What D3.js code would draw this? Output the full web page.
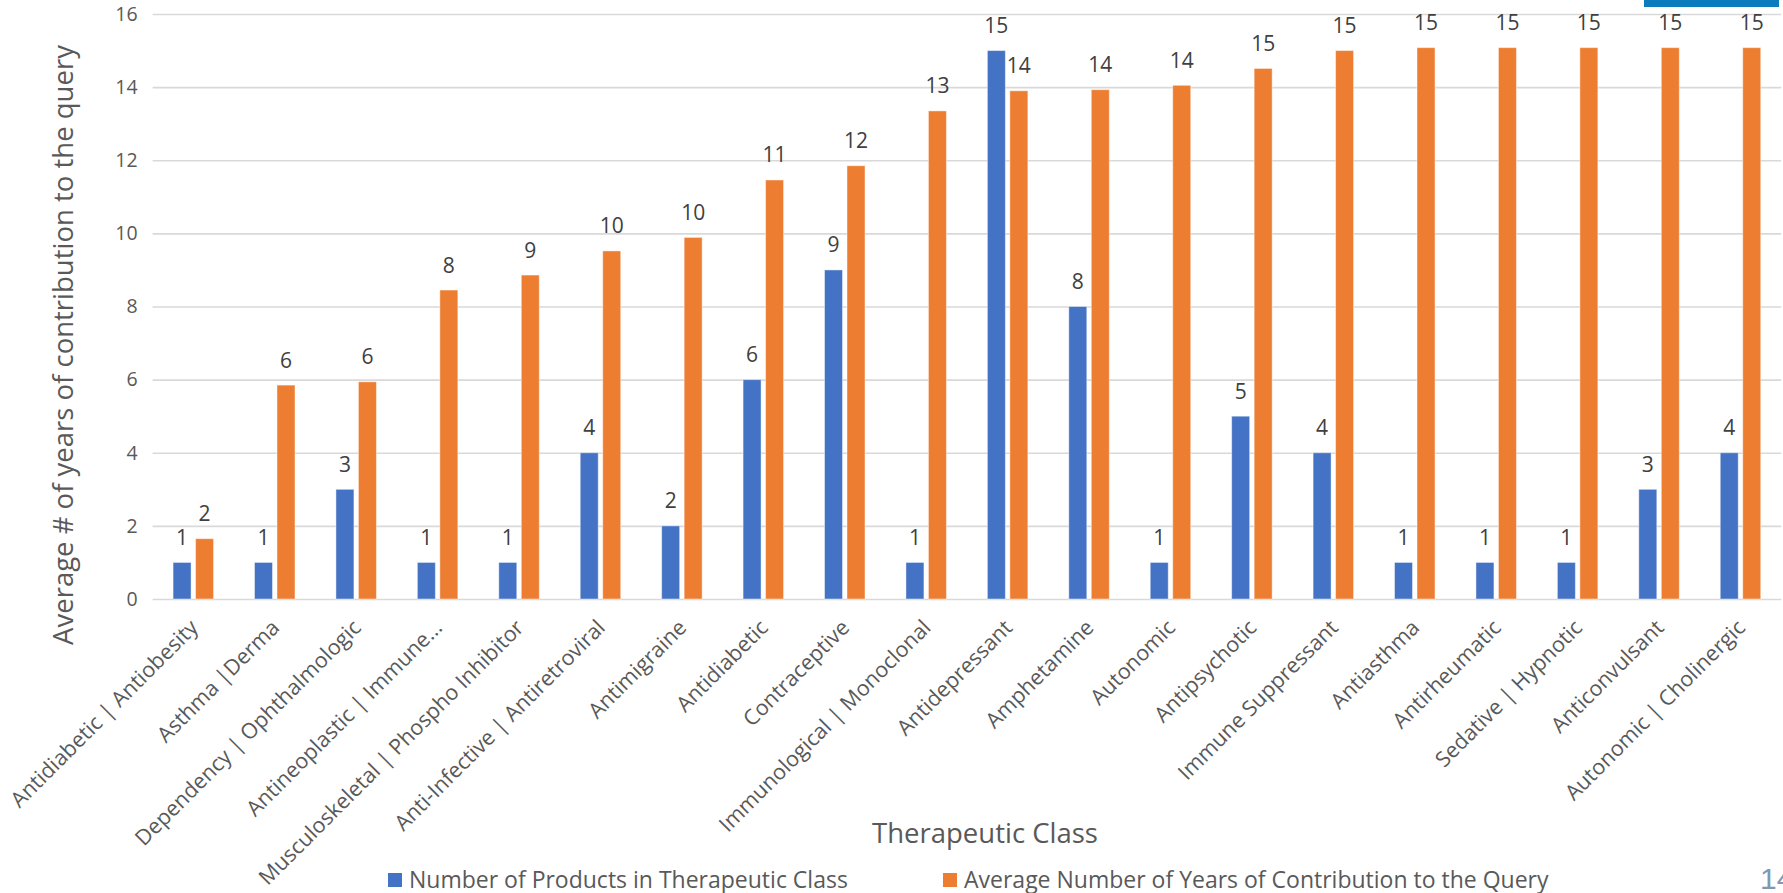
<!DOCTYPE html>
<html>
<head>
<meta charset="utf-8">
<script src="https://cdn.jsdelivr.net/npm/d3@7"></script>
<style>
  body { margin: 0; background: #fff; }
  svg { display: block; font-family: "Open Sans", sans-serif; }
</style>
</head>
<body>
<svg id="chart"></svg>
<script>
var svgWidth = 1783;
var svgHeight = 893;

// therapeutic classes, in the order shown
var categories = [
  "Antidiabetic | Antiobesity", "Asthma |Derma", "Dependency | Ophthalmologic",
  "Antineoplastic | Immune...", "Musculoskeletal | Phospho Inhibitor",
  "Anti-Infective | Antiretroviral", "Antimigraine", "Antidiabetic", "Contraceptive",
  "Immunological | Monoclonal", "Antidepressant", "Amphetamine", "Autonomic",
  "Antipsychotic", "Immune Suppressant", "Antiasthma", "Antirheumatic",
  "Sedative | Hypnotic", "Anticonvulsant", "Autonomic | Cholinergic"
];
var productCounts = [1, 1, 3, 1, 1, 4, 2, 6, 9, 1, 15, 8, 1, 5, 4, 1, 1, 1, 3, 4];
var avgYears = [1.65, 5.85, 5.94, 8.45, 8.86, 9.52, 9.89, 11.46, 11.85, 13.35,
                13.9, 13.93, 14.05, 14.51, 15.0, 15.08, 15.08, 15.08, 15.08, 15.08];
var yTicks = [0, 2, 4, 6, 8, 10, 12, 14, 16];
var seriesNames = ["Number of Products in Therapeutic Class",
                   "Average Number of Years of Contribution to the Query"];
var seriesColors = ["#4472C4", "#ED7D31"];

var plot = { left: 152.6, right: 1781.2, top: 14, bottom: 599 };

var svg = d3.select("#chart")
  .attr("width", svgWidth)
  .attr("height", svgHeight);

var x0 = d3.scaleBand()
  .domain(categories)
  .range([plot.left, plot.right]);

var x1 = d3.scaleBand()
  .domain([0, 1])
  .range([0, x0.bandwidth()])
  .paddingInner(0.2)
  .paddingOuter(0.91);

var y = d3.scaleLinear()
  .domain([0, 16])
  .range([plot.bottom, plot.top]);

// gridlines + y tick labels
var yAxis = svg.append("g")
  .attr("transform", "translate(" + plot.left + ",0)")
  .call(d3.axisLeft(y)
    .tickValues(yTicks)
    .tickSize(-(plot.right - plot.left))
    .tickPadding(15)
    .tickFormat(d3.format("d")));
yAxis.select(".domain").remove();
yAxis.selectAll("line").attr("stroke", "#d9d9d9").attr("stroke-width", 1.6);
yAxis.selectAll("text")
  .attr("fill", "#595959")
  .style("font-size", "19.5px")
  .style("font-family", "'Open Sans', sans-serif");

// bars
var rows = categories.map(function(c, i) {
  return { cat: c, vals: [productCounts[i], avgYears[i]] };
});

var groups = svg.append("g").selectAll("g")
  .data(rows)
  .enter().append("g")
  .attr("transform", function(d) { return "translate(" + x0(d.cat) + ",0)"; });

groups.selectAll("rect")
  .data(function(d) { return d.vals.map(function(v, k) { return { k: k, v: v }; }); })
  .enter().append("rect")
  .attr("x", function(d) { return x1(d.k); })
  .attr("width", x1.bandwidth())
  .attr("y", function(d) { return y(d.v); })
  .attr("height", function(d) { return y(0) - y(d.v); })
  .attr("fill", function(d) { return seriesColors[d.k]; })
  .attr("stroke", "#ffffff")
  .attr("stroke-opacity", 0.45)
  .attr("stroke-width", 1);

// data labels (rounded)
groups.selectAll("text")
  .data(function(d) { return d.vals.map(function(v, k) { return { k: k, v: v }; }); })
  .enter().append("text")
  .attr("x", function(d) { return x1(d.k) + x1.bandwidth() / 2; })
  .attr("y", function(d) { return y(d.v) - 17.5; })
  .attr("text-anchor", "middle")
  .attr("fill", "#404040")
  .style("font-size", "21px")
  .text(function(d) { return Math.round(d.v); });

// category labels, rotated
svg.append("g").selectAll("text")
  .data(categories)
  .enter().append("text")
  .attr("transform", function(d) {
    return "translate(" + (x0(d) + x0.bandwidth() / 2 + 6) + "," + (plot.bottom + 30) + ") rotate(-45)";
  })
  .attr("text-anchor", "end")
  .attr("fill", "#595959")
  .style("font-size", "21.5px")
  .text(function(d) { return d; });

// axis titles
svg.append("text")
  .attr("transform", "translate(73,345) rotate(-90)")
  .attr("text-anchor", "middle")
  .attr("fill", "#595959")
  .style("font-size", "27.5px")
  .text("Average # of years of contribution to the query");

svg.append("text")
  .attr("x", 985)
  .attr("y", 843)
  .attr("text-anchor", "middle")
  .attr("fill", "#595959")
  .style("font-size", "27.5px")
  .text("Therapeutic Class");

// legend
var legendX = [388, 943];
var legend = svg.append("g").selectAll("g")
  .data(seriesNames)
  .enter().append("g")
  .attr("transform", function(d, i) { return "translate(" + legendX[i] + ",873)"; });
legend.append("rect")
  .attr("width", 14).attr("height", 14)
  .attr("fill", function(d, i) { return seriesColors[i]; });
legend.append("text")
  .attr("x", 21).attr("y", 14.5)
  .attr("fill", "#595959")
  .style("font-size", "23px")
  .text(function(d) { return d; });

// slide decorations: blue tab top right, page number bottom right
svg.append("rect")
  .attr("x", 1644).attr("y", 0)
  .attr("width", 135).attr("height", 7)
  .attr("fill", "#0a7bbd");
svg.append("text")
  .attr("x", 1760).attr("y", 889)
  .attr("fill", "#8497b0")
  .style("font-size", "30px")
  .style("font-family", "Arial, 'Liberation Sans', sans-serif")
  .text("14");
</script>
</body>
</html>
